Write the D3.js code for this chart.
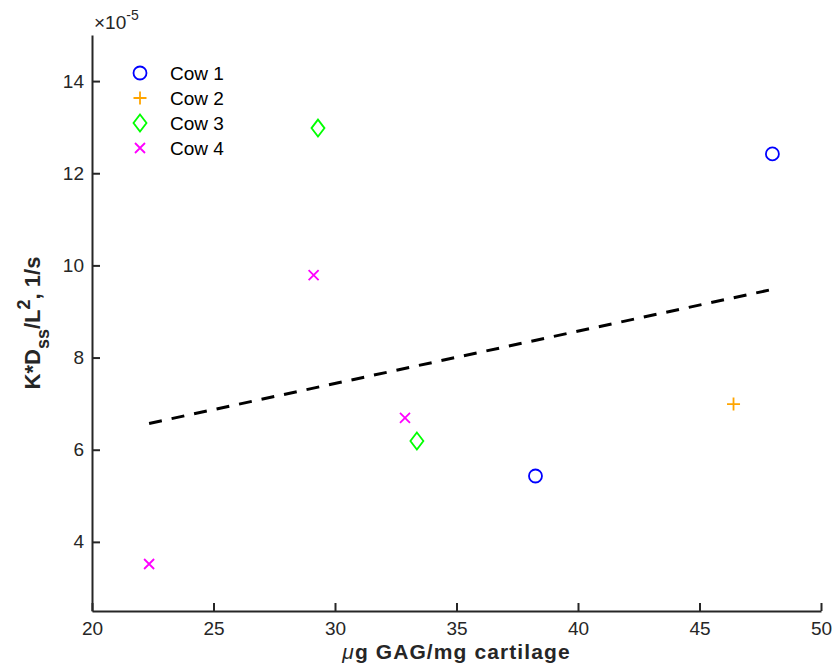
<!DOCTYPE html>
<html><head><meta charset="utf-8">
<script src="https://cdn.jsdelivr.net/npm/d3@7"></script>
<style>body{margin:0;background:#fff;} text{font-family:"Liberation Sans",Arial,Helvetica,sans-serif;}</style>
</head><body>
<svg id="c" width="835" height="668"></svg>
<script>
// Data (y values in units of 1e-5)
const seriesNames = ["Cow 1", "Cow 2", "Cow 3", "Cow 4"];
const cow1 = [[38.25, 5.43], [48.0, 12.42]];
const cow2 = [[46.4, 6.99]];
const cow3 = [[29.3, 12.98], [33.37, 6.19]];
const cow4 = [[22.35, 3.52], [29.12, 9.79], [32.88, 6.69]];
const fitLine = [[22.35, 6.57], [48.0, 9.48]];
const xTicks = [20, 25, 30, 35, 40, 45, 50];
const yTicks = [4, 6, 8, 10, 12, 14];
const colors = ["#0000ff", "#ffa500", "#00ff00", "#ff00ff"];
const shapes = ["circle", "plus", "diamond", "x"];

const svg = d3.select("#c");
const m = {l: 92, r: 821, t: 35, b: 611};
const x = d3.scaleLinear().domain([20, 50]).range([m.l, m.r]);
const y = d3.scaleLinear().domain([2.5, 15]).range([m.b, m.t]);

// axes
const xa = svg.append("g").attr("transform", `translate(0,${m.b})`)
  .call(d3.axisBottom(x).tickValues(xTicks).tickSize(-8).tickPadding(11).tickSizeOuter(0));
const ya = svg.append("g").attr("transform", `translate(${m.l},0)`)
  .call(d3.axisLeft(y).tickValues(yTicks).tickSize(-8).tickPadding(8).tickSizeOuter(0));
[xa, ya].forEach(a => {
  a.attr("font-size", 19).attr("font-family", "Liberation Sans, Arial, sans-serif");
  a.select(".domain").attr("stroke", "#262626").attr("stroke-width", 2);
  a.selectAll(".tick line").attr("stroke", "#262626").attr("stroke-width", 2);
  a.selectAll(".tick text").attr("fill", "#262626");
});
// exponent label
const ex = svg.append("text").attr("x", m.l + 2).attr("y", 29).attr("font-size", 19).attr("fill", "#262626");
ex.append("tspan").text("\u00d710");
ex.append("tspan").attr("dy", -9).attr("font-size", 14).text("-5");

// fit line
svg.append("line")
  .attr("x1", x(fitLine[0][0])).attr("y1", y(fitLine[0][1]))
  .attr("x2", x(fitLine[1][0])).attr("y2", y(fitLine[1][1]))
  .attr("stroke", "#000").attr("stroke-width", 3).attr("stroke-dasharray", "13,10");

function marker(g, shape, color, cx, cy) {
  if (shape === "circle") {
    g.append("circle").attr("cx", cx).attr("cy", cy).attr("r", 6.5)
      .attr("fill", "none").attr("stroke", color).attr("stroke-width", 1.8);
  } else if (shape === "plus") {
    g.append("path").attr("d", `M${cx-6.5},${cy}H${cx+6.5}M${cx},${cy-6.5}V${cy+6.5}`)
      .attr("stroke", color).attr("stroke-width", 1.8).attr("fill", "none");
  } else if (shape === "diamond") {
    g.append("path").attr("d", `M${cx},${cy-8.5}L${cx+6.5},${cy}L${cx},${cy+8.5}L${cx-6.5},${cy}Z`)
      .attr("stroke", color).attr("stroke-width", 1.8).attr("fill", "none");
  } else {
    g.append("path").attr("d", `M${cx-5},${cy-5}L${cx+5},${cy+5}M${cx-5},${cy+5}L${cx+5},${cy-5}`)
      .attr("stroke", color).attr("stroke-width", 1.8).attr("fill", "none");
  }
}
const allSeries = [cow1, cow2, cow3, cow4];
allSeries.forEach((s, i) => {
  const g = svg.append("g");
  s.forEach(d => marker(g, shapes[i], colors[i], x(d[0]), y(d[1])));
});

// legend
const lg = svg.append("g");
seriesNames.forEach((n, i) => {
  const yy = 73 + i * 25;
  marker(lg, shapes[i], colors[i], 140, yy);
  lg.append("text").attr("x", 170).attr("y", yy + 7).attr("font-size", 19).attr("fill", "#000").text(n);
});

// x label
const xl = svg.append("text").attr("x", (m.l + m.r) / 2).attr("y", 659).attr("text-anchor", "middle")
  .attr("font-size", 21).attr("font-weight", "bold").attr("letter-spacing", 1.1).attr("fill", "#262626");
xl.append("tspan").attr("font-style", "italic").attr("font-weight", "normal").text("\u03bc");
xl.append("tspan").text("g GAG/mg cartilage");

// y label
const yl = svg.append("text").attr("transform", `translate(40,${(m.t + m.b) / 2}) rotate(-90)`)
  .attr("text-anchor", "middle").attr("font-size", 22).attr("font-weight", "bold").attr("fill", "#262626");
yl.append("tspan").text("K*D");
yl.append("tspan").attr("dy", 9).attr("font-size", 18).text("ss");
yl.append("tspan").attr("dy", -9).text("/L");
yl.append("tspan").attr("dy", -10).attr("font-size", 18).text("2");
yl.append("tspan").attr("dy", 10).text(", 1/s");
</script>
</body></html>
